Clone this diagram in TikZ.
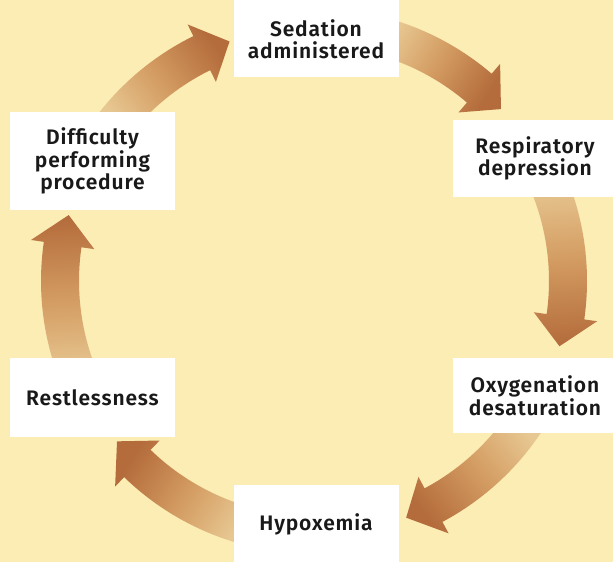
\documentclass[tikz,border=0pt]{standalone}
\usepackage{fontspec}
\setmainfont{Fira Sans}[BoldFont={Fira Sans SemiBold}, LetterSpace=4]
\usetikzlibrary{calc, backgrounds}

\definecolor{paper}{RGB}{251,237,180}
\definecolor{arrowtail}{RGB}{232,200,146}
\definecolor{arrowmid}{RGB}{210,154,96}
\definecolor{arrowhead}{RGB}{180,108,60}

% shaded arc arrow round (c), from node #1 to node #2
% #3 = tail offset, #4 = tip offset (degrees)
\newcommand{\cyclearrow}[4]{%
  \path[cyc] let \p1 = ($(#1)-(c)$), \p2 = ($(#2)-(c)$),
    \n1 = {atan2(\y1,\x1)-#3},
    \n2 = {\n1-Mod(\n1-atan2(\y2,\x2)-#4,360)},
    \n3 = {\n2+6.8},
    \n4 = {(\n1+\n2)/2-180}
  in [shading angle=\n4]
    ($(c)+(\n1:273pt)$) arc[start angle=\n1, end angle=\n3, radius=273pt]
    -- ($(c)+(\n3:286pt)$) -- ($(c)+(\n2:254pt)$) -- ($(c)+(\n3:222pt)$)
    -- ($(c)+(\n3:235pt)$) arc[start angle=\n3, end angle=\n1, radius=235pt]
    -- cycle;}

\begin{document}
\begin{tikzpicture}[x=1pt, y=1pt,
  phase/.style = {fill=white, text=black!90, align=center, inner sep=0pt,
                  minimum width=165pt, minimum height=77pt,
                  font=\fontsize{21}{22.5}\selectfont\bfseries},
  cyc/.style   = {top color=arrowhead, bottom color=arrowtail, middle color=arrowmid},
  ]
  \useasboundingbox (0,0) rectangle (613,562);
  \coordinate (c) at (314,281);

  % Stages of the cycle
  \node (sed)  at (316,523)   [phase] {Sedation\\administered};
  \node (resp) at (535,403.5) [phase] {Respiratory\\depression};
  \node (oxy)  at (535,166.5) [phase, minimum height=75pt] {Oxygenation\\desaturation};
  \node (hyp)  at (316,38)    [phase, minimum height=78pt] {Hypoxemia};
  \node (rest) at (92.5,164.5)[phase, minimum height=79pt] {Restlessness};
  \node (diff) at (92.5,401)  [phase, minimum height=98pt] {Difficulty\\performing\\procedure};

  % Shaded arrows between the stages
  \begin{scope}[on background layer]
    \fill[paper] (0,0) rectangle (613,562);
    \cyclearrow{sed}{resp}{15}{13.6}
    \cyclearrow{resp}{oxy}{7}{12.5}
    \cyclearrow{oxy}{hyp}{5.5}{20.8}
    \cyclearrow{hyp}{rest}{15}{11.4}
    \cyclearrow{rest}{diff}{7}{13.4}
    \cyclearrow{diff}{sed}{9}{19.9}
  \end{scope}
\end{tikzpicture}
\end{document}
